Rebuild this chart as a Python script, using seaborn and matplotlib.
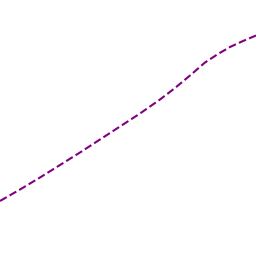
import numpy as np
import pandas as pd
import matplotlib
matplotlib.use("Agg")
import matplotlib.pyplot as plt
import seaborn as sns

# values (x position, height above bottom)
x_vals = [0, 20, 40, 60, 80, 100, 120, 140, 160, 175, 190, 205, 218, 230, 243, 256]
y_vals = [55, 66.5, 78.5, 91, 103.5, 116.5, 129.5, 142.5, 156.5, 168, 180.5, 193.5, 202, 209, 215, 220.5]

df = pd.DataFrame({"x": x_vals, "y": y_vals})

sns.set_style("white")
fig = plt.figure(figsize=(2.56, 2.56), dpi=100)
ax = fig.add_axes([0, 0, 1, 1])

sns.lineplot(data=df, x="x", y="y", ax=ax, color="#800080",
             linestyle="--", linewidth=1.5)

ax.set_xlim(0, 256)
ax.set_ylim(0, 256)
ax.axis("off")

fig.savefig("out.png", dpi=100)
